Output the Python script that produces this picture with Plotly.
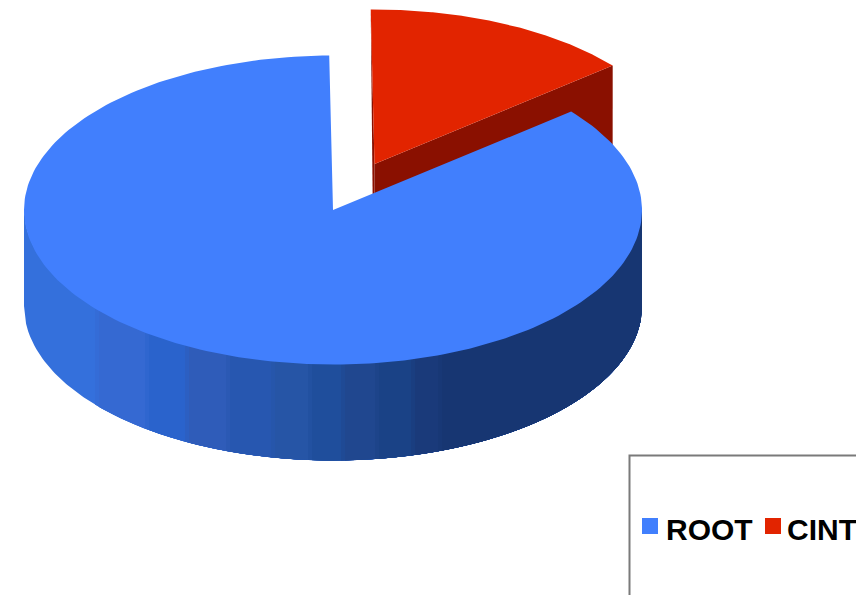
import numpy as np
import plotly.graph_objects as go

# Share of the code base per component
categories = ["ROOT", "CINT"]
shares = [85.8, 14.2]

top_colors = ["#417FFD", "#E22400"]
CUT_FACE_RED = "#8A1000"

# Shading of the outer rim, left to right
rim_edges = [24, 97, 147, 187, 228, 273, 310, 343, 377, 413, 440]
rim_colors = ["#3470DC", "#3569D2", "#2A63CC", "#2F5CB9", "#2757B0",
              "#2655A6", "#1F4E9C", "#20478F", "#1A4286", "#1A3A7A", "#173672"]

# Projection of the pie disc
CX, CY = 333.0, 210.0
RX, RY = 309.0, 154.5
DEPTH = 96.0
START_DEG = -0.7
EXPLODE = (41.5, -46.0)


def sector(cx, cy, a0, a1):
    """Apex plus elliptical arc, angles clockwise from twelve o'clock."""
    a = np.radians(np.linspace(a0, a1, 240))
    xs = np.concatenate([[cx], cx + RX * np.sin(a), [cx]])
    ys = np.concatenate([[cy], cy - RY * np.cos(a), [cy]])
    return xs, ys


def filled(xs, ys, color, name):
    return go.Scatter(x=xs, y=ys, mode="lines", fill="toself", fillcolor=color,
                      line=dict(width=0, color=color), name=name, hoverinfo="name")


def mix(c0, c1):
    a = [int(c0[i:i + 2], 16) for i in (1, 3, 5)]
    b = [int(c1[i:i + 2], 16) for i in (1, 3, 5)]
    return "#" + "".join(f"{(p + q) // 2:02X}" for p, q in zip(a, b))


sweep_cint = shares[1] / sum(shares) * 360.0
cint_cx, cint_cy = CX + EXPLODE[0], CY + EXPLODE[1]
fig = go.Figure()

# Exploded CINT slice: cut face first, then the left wall and the top
end = np.radians(START_DEG + sweep_cint)
ex, ey = cint_cx + RX * np.sin(end), cint_cy - RY * np.cos(end)
fig.add_trace(filled([cint_cx, ex, ex, cint_cx, cint_cx],
                     [cint_cy, ey, ey + DEPTH, cint_cy + DEPTH, cint_cy],
                     CUT_FACE_RED, categories[1]))
start = np.radians(START_DEG)
sx, sy = cint_cx + RX * np.sin(start), cint_cy - RY * np.cos(start)
fig.add_trace(filled([sx, cint_cx, cint_cx, cint_cx - 1.2, sx],
                     [sy, cint_cy, cint_cy + DEPTH, cint_cy + DEPTH, sy],
                     CUT_FACE_RED, categories[1]))
xs, ys = sector(cint_cx, cint_cy, START_DEG, START_DEG + sweep_cint)
fig.add_trace(filled(xs, ys, top_colors[1], categories[1]))

# ROOT rim: each band runs to the right end so later bands paint over earlier ones;
# a short blended band softens every step
for i, (left, color) in enumerate(zip(rim_edges, rim_colors)):
    starts = [(left, color)] if i == 0 else [(left - 2, mix(rim_colors[i - 1], color)), (left + 2, color)]
    for x0, shade in starts:
        x = np.linspace(x0, CX + RX, 300)
        arc = CY + RY * np.sqrt(np.clip(1 - ((x - CX) / RX) ** 2, 0, 1))
        fig.add_trace(filled(np.concatenate([x, x[::-1]]),
                             np.concatenate([arc - 2, (arc + DEPTH)[::-1]]),
                             shade, categories[0]))

# ROOT top face
xs, ys = sector(CX, CY, START_DEG + sweep_cint, START_DEG + 360.0)
fig.add_trace(filled(xs, ys, top_colors[0], categories[0]))

# Legend swatches
fig.add_trace(go.Scatter(x=[650, 773], y=[526, 526], mode="markers",
                         marker=dict(symbol="square", size=16, color=top_colors,
                                     line=dict(width=0)),
                         text=categories, hoverinfo="text"))

fig.update_layout(
    width=856, height=595, autosize=False,
    margin=dict(l=0, r=0, t=0, b=0),
    paper_bgcolor="white", plot_bgcolor="white", showlegend=False,
    xaxis=dict(range=[0, 856], visible=False, fixedrange=True),
    yaxis=dict(range=[595, 0], visible=False, fixedrange=True),
    shapes=[dict(type="rect", xref="x", yref="y", x0=629.5, y0=455.5, x1=900, y1=640,
                 line=dict(color="#7A7A7A", width=2), fillcolor="rgba(0,0,0,0)", layer="below")],
    annotations=[
        dict(x=x, y=529.5, xref="x", yref="y", text=f"<b>{name}</b>", showarrow=False,
             xanchor="left", yanchor="middle",
             font=dict(family="Liberation Sans", size=30, color="black"),
             align="left", borderpad=0)
        for x, name in zip([664.5, 785.8], categories)
    ],
)

fig.write_html("out.html", config={"displayModeBar": False})
